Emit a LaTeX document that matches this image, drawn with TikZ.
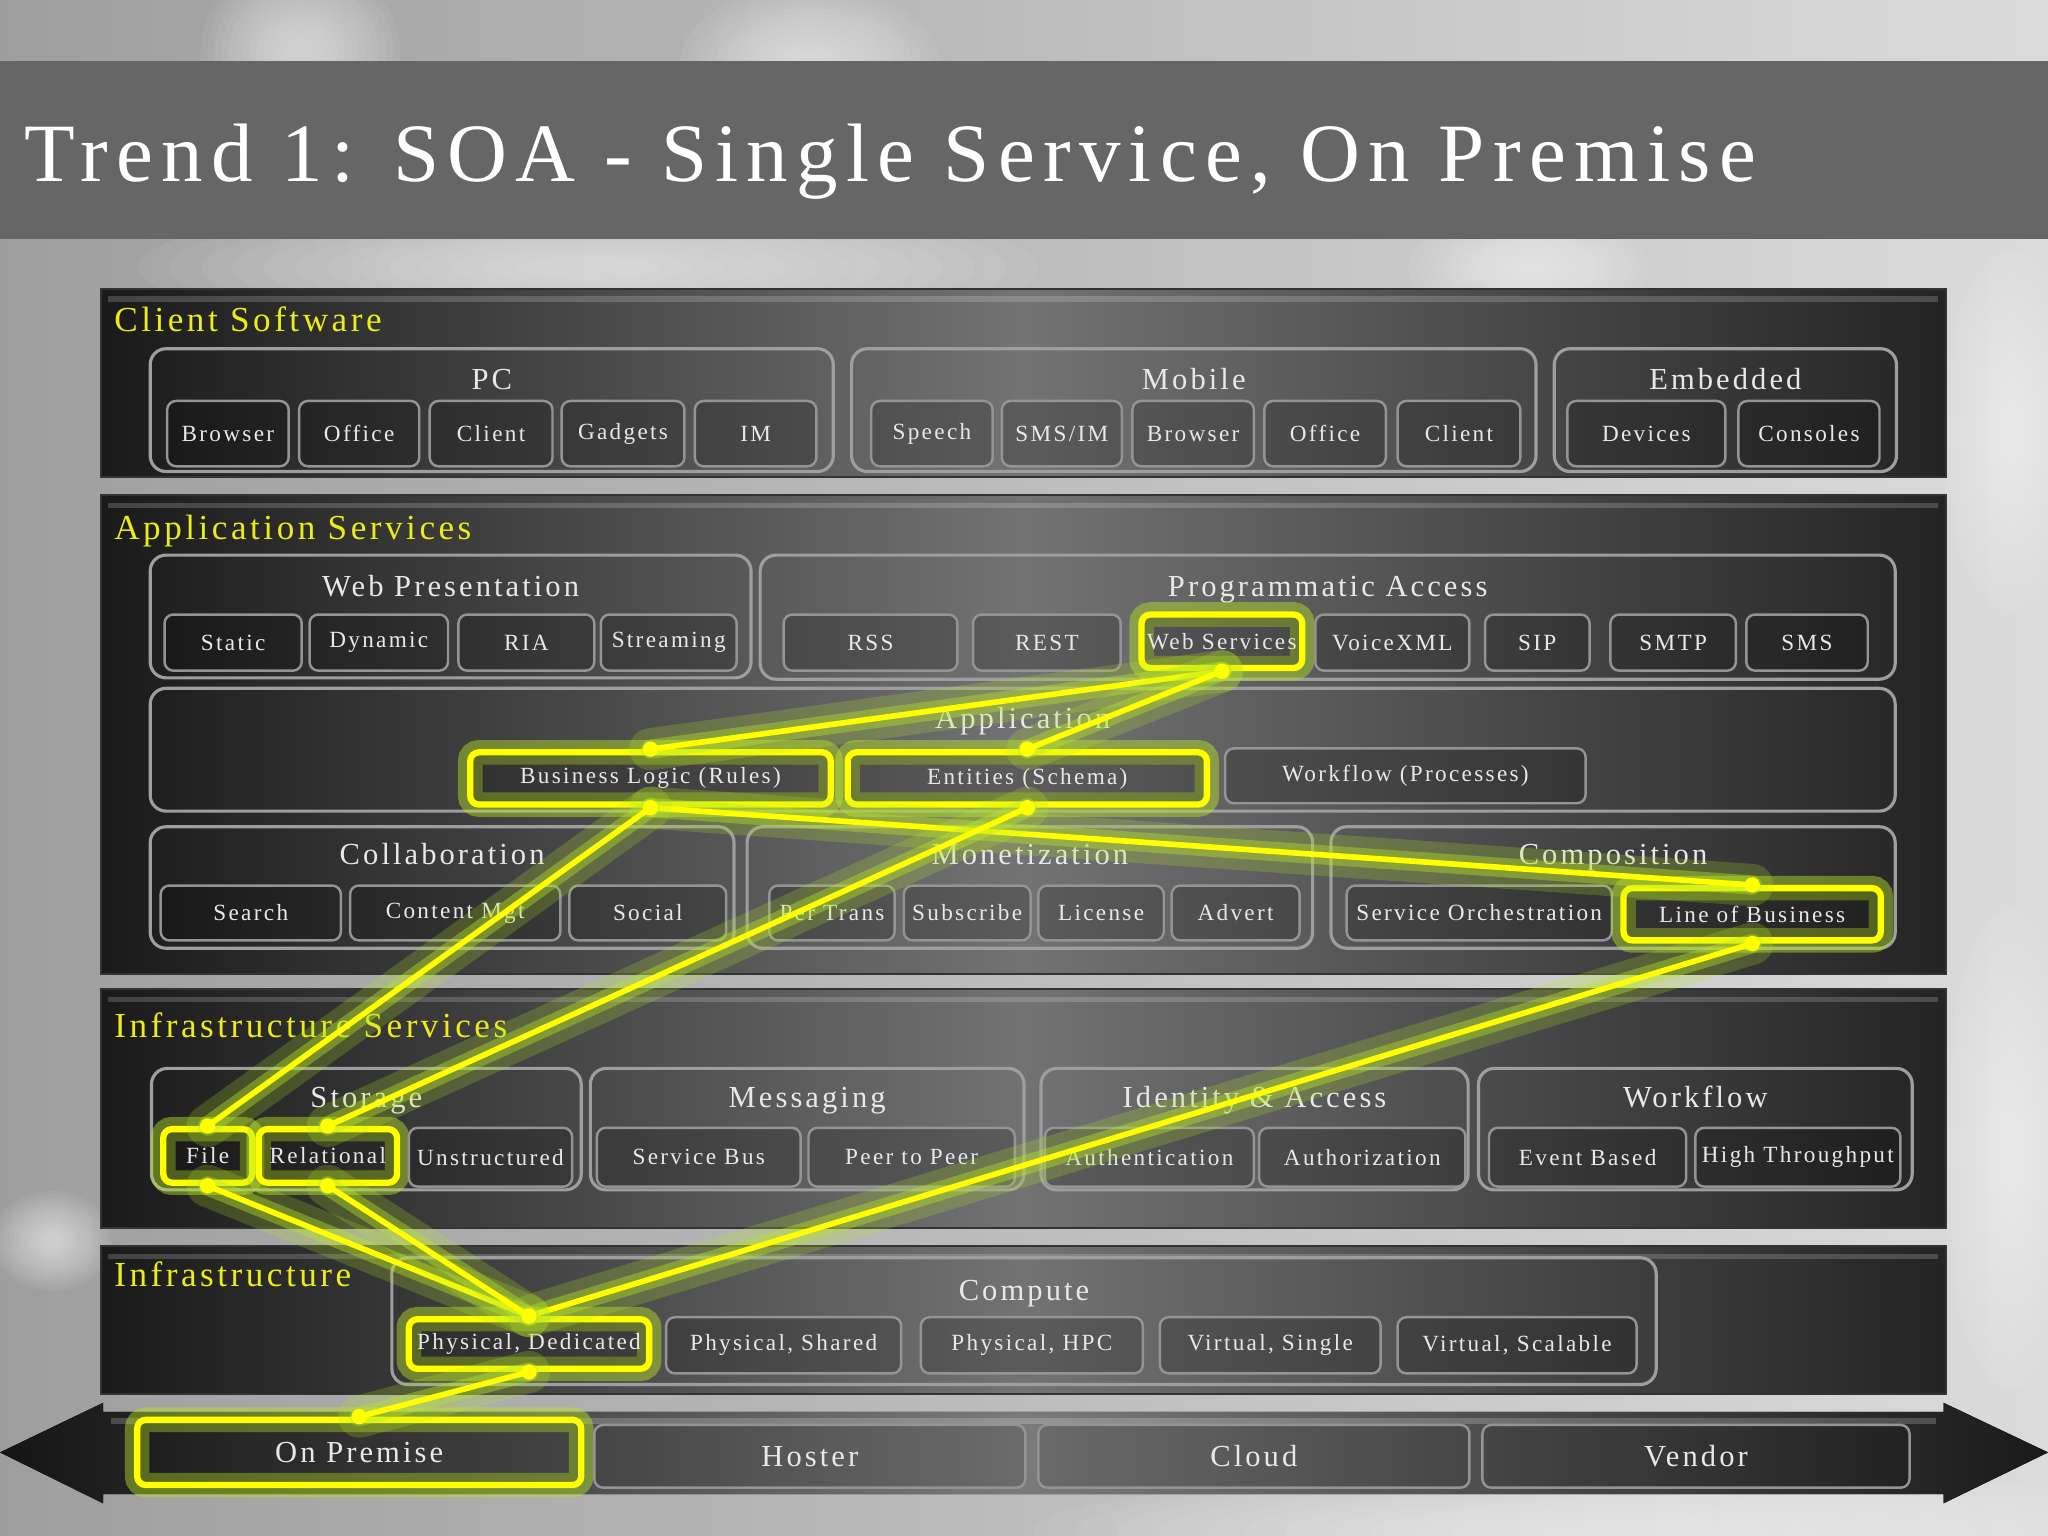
\documentclass[tikz,border=0pt]{standalone}
\usepackage{fontspec}
\setmainfont{Liberation Serif}[LetterSpace=10]
\definecolor{ylw}{RGB}{236,236,24}
\definecolor{hl}{RGB}{255,255,0}
\definecolor{glowc}{RGB}{185,230,40}
\definecolor{itxt}{RGB}{232,232,232}
\newcommand\upx{0.013061cm}
\newcommand\mkbox[7]{\node[#1, minimum width={(#4-#3)*\upx}, minimum height={(#6)*\upx}] (#2) at ({(#3+#4)/2},#5) {#7};}
\newcommand\mkgrp[7]{%
  \node[grpbox, minimum width={(#3-#2)*\upx}, minimum height={(#5-#4)*\upx}] (#1) at ({(#2+#3)/2},{(#4+#5)/2}) {};
  \node[grptitle, anchor=base] (#1-t) at ({(#2+#3)/2},#7) {#6};}
\newcommand\mkpanel[7]{%
  \node[panelbox, minimum width={(#3-#2)*\upx}, minimum height={(#5-#4)*\upx}] (#1) at ({(#2+#3)/2},{(#4+#5)/2}) {};
  \draw[white, draw opacity=0.18, line width=1.5pt] ({#2+6},{#4+8}) -- ({#3-6},{#4+8});
  \node[seclabel, anchor=base west] (#1-l) at (87,#7) {#6};}
\newcommand\blob[4]{%
  \foreach \s in {1,0.93,...,0.1}
    \fill[white, opacity=0.055] (#1,#2) ellipse [x radius=\s*#3 cm, y radius=\s*#4 cm];}
\begin{document}
\begin{tikzpicture}[x=0.013061cm, y=-0.013061cm,
  panelbox/.style={inner sep=0pt, outer sep=0pt, draw=black!80, line width=0.6pt, left color=black!90, right color=black!86, middle color=black!55},
  grpbox/.style={inner sep=0pt, draw=black!38, line width=0.9pt, rounded corners=4.5pt},
  grptitle/.style={inner sep=0pt, text=itxt, font=\fontsize{8.7}{10}\selectfont},
  seclabel/.style={inner sep=0pt, text=ylw, font=\fontsize{10}{12}\selectfont},
  item/.style={inner sep=0pt, draw=black!42, line width=0.7pt, rounded corners=2.5pt, fill=black, fill opacity=0.2, text opacity=1, text=itxt, font=\fontsize{6.6}{8}\selectfont},
  hlitem/.style={item, draw=hl, line width=1.8pt, preaction={draw=glowc, draw opacity=0.45, line width=7pt}},
  baritem/.style={item, font=\fontsize{8.7}{10}\selectfont, fill opacity=0.12},
  hlbar/.style={baritem, draw=hl, line width=1.8pt, preaction={draw=glowc, draw opacity=0.45, line width=7pt}},
  conn/.style={draw=hl, line width=1.6pt, line cap=round, preaction={draw=glowc, draw opacity=0.22, line width=12pt, line cap=round}, preaction={draw=glowc, draw opacity=0.4, line width=5.5pt, line cap=round}}
]
\useasboundingbox (0,0) rectangle (1568,1176);
% background sky
\fill[left color=black!38, right color=black!14] (0,0) rectangle (1568,1176);
\blob{230}{40}{1.0}{0.9}
\blob{620}{50}{1.3}{0.8}
\blob{450}{205}{4.5}{0.7}
\blob{1170}{205}{1.2}{0.55}
\blob{1540}{330}{0.7}{1.8}
\blob{1540}{880}{0.7}{2.4}
\blob{1250}{1172}{6.0}{0.6}
\blob{40}{950}{0.6}{0.5}
% title band
\fill[black!60] (0,47) rectangle (1568,183);
\node[anchor=base west, inner sep=0pt, text=white, font=\fontsize{23.6}{28}\selectfont] (title) at (18,139) {Trend 1: SOA - Single Service, On Premise};

% panels
\mkpanel{cs}{77}{1490}{221}{365}{Client Software}{254}
\mkpanel{as}{77}{1490}{379}{746}{Application Services}{413}
\mkpanel{is}{77}{1490}{757}{940}{Infrastructure Services}{794}
\mkpanel{inf}{77}{1490}{954}{1067}{Infrastructure}{985}

% Client software
\mkgrp{pc}{115}{638}{267}{361}{PC}{298}
\mkgrp{mob}{652}{1176}{267}{361}{Mobile}{298}
\mkgrp{emb}{1190}{1452}{267}{361}{Embedded}{298}
\mkbox{item}{pc1}{128}{221}{332}{50}{Browser}
\mkbox{item}{pc2}{229}{321}{332}{50}{Office}
\mkbox{item}{pc3}{329}{423}{332}{50}{Client}
\mkbox{item}{pc4}{430}{524}{332}{50}{Gadgets}
\mkbox{item}{pc5}{532}{625}{332}{50}{IM}
\mkbox{item}{mb1}{667}{760}{332}{50}{Speech}
\mkbox{item}{mb2}{767}{859}{332}{50}{SMS/IM}
\mkbox{item}{mb3}{867}{960}{332}{50}{Browser}
\mkbox{item}{mb4}{968}{1061}{332}{50}{Office}
\mkbox{item}{mb5}{1070}{1164}{332}{50}{Client}
\mkbox{item}{em1}{1200}{1321}{332}{50}{Devices}
\mkbox{item}{em2}{1331}{1439}{332}{50}{Consoles}

% Application services
\mkgrp{wp}{115}{575}{425}{519}{Web Presentation}{457}
\mkgrp{pa}{582}{1451}{425}{520}{Programmatic Access}{457}
\mkbox{item}{wp1}{126}{231}{492}{43}{Static}
\mkbox{item}{wp2}{237}{343}{492}{43}{Dynamic}
\mkbox{item}{wp3}{351}{455}{492}{43}{RIA}
\mkbox{item}{wp4}{460}{564}{492}{43}{Streaming}
\mkbox{item}{pa1}{600}{733}{492}{43}{RSS}
\mkbox{item}{pa2}{745}{858}{492}{43}{REST}
\mkbox{hlitem}{ws}{874}{997}{491}{41}{Web Services}
\mkbox{item}{pa4}{1007}{1125}{492}{43}{VoiceXML}
\mkbox{item}{pa5}{1137}{1217}{492}{43}{SIP}
\mkbox{item}{pa6}{1233}{1329}{492}{43}{SMTP}
\mkbox{item}{pa7}{1337}{1430}{492}{43}{SMS}

\mkgrp{apg}{115}{1451}{527}{621}{Application}{558}
\mkbox{hlitem}{bl}{360}{636}{596}{40}{Business Logic (Rules)}
\mkbox{hlitem}{ent}{649}{924}{596}{40}{Entities (Schema)}
\mkbox{item}{wfp}{938}{1214}{594}{42}{Workflow (Processes)}

\mkgrp{col}{115}{562}{633}{726}{Collaboration}{662}
\mkgrp{mon}{572}{1005}{633}{726}{Monetization}{662}
\mkgrp{com}{1019}{1451}{633}{726}{Composition}{662}
\mkbox{item}{co1}{123}{261}{699}{42}{Search}
\mkbox{item}{co2}{268}{429}{699}{42}{Content Mgt}
\mkbox{item}{co3}{436}{556}{699}{42}{Social}
\mkbox{item}{mo1}{589}{685}{699}{42}{Per Trans}
\mkbox{item}{mo2}{692}{789}{699}{42}{Subscribe}
\mkbox{item}{mo3}{795}{891}{699}{42}{License}
\mkbox{item}{mo4}{897}{995}{699}{42}{Advert}
\mkbox{item}{cp1}{1031}{1234}{699}{42}{Service Orchestration}
\mkbox{hlitem}{lob}{1243}{1440}{700}{40}{Line of Business}

% Infrastructure services
\mkgrp{sto}{116}{445}{818}{911}{Storage}{848}
\mkgrp{msg}{452}{784}{818}{911}{Messaging}{848}
\mkgrp{ida}{797}{1124}{818}{911}{Identity \& Access}{848}
\mkgrp{wfl}{1132}{1464}{818}{911}{Workflow}{848}
\mkbox{hlitem}{file}{125}{193}{885}{41}{File}
\mkbox{hlitem}{rel}{198}{304}{885}{41}{Relational}
\mkbox{item}{st3}{313}{438}{886}{45}{Unstructured}
\mkbox{item}{ms1}{457}{613}{886}{45}{Service Bus}
\mkbox{item}{ms2}{619}{777}{886}{45}{Peer to Peer}
\mkbox{item}{id1}{800}{960}{886}{45}{Authentication}
\mkbox{item}{id2}{964}{1122}{886}{45}{Authorization}
\mkbox{item}{wf1}{1140}{1291}{886}{45}{Event Based}
\mkbox{item}{wf2}{1298}{1455}{886}{45}{High Throughput}

% Infrastructure
\mkgrp{cmp}{300}{1268}{963}{1060}{Compute}{996}
\mkbox{hlitem}{pd}{313}{497}{1029}{38}{Physical, Dedicated}
\mkbox{item}{cm2}{510}{690}{1030}{43}{Physical, Shared}
\mkbox{item}{cm3}{705}{875}{1030}{43}{Physical, HPC}
\mkbox{item}{cm4}{888}{1057}{1030}{43}{Virtual, Single}
\mkbox{item}{cm5}{1070}{1253}{1030}{43}{Virtual, Scalable}

% bottom double arrow bar
\fill[left color=black!92, right color=black!90, middle color=black!52]
  (0,1112) -- (79,1074) -- (79,1081) -- (1488,1081) -- (1488,1074) -- (1568,1112)
  -- (1488,1151) -- (1488,1144) -- (79,1144) -- (79,1151) -- cycle;
\draw[white, draw opacity=0.2, line width=1.5pt] (85,1088) -- (1482,1088);
\mkbox{hlbar}{onp}{105}{445}{1112}{50}{On Premise}
\mkbox{baritem}{hos}{455}{785}{1115}{48}{Hoster}
\mkbox{baritem}{cld}{795}{1125}{1115}{48}{Cloud}
\mkbox{baritem}{ven}{1135}{1462}{1115}{48}{Vendor}

% connectors
\draw[conn] (ws.south) -- (bl.north);
\draw[conn] (ws.south) -- (ent.north);
\draw[conn] (bl.south) -- (lob.north);
\draw[conn] (bl.south) -- (file.north);
\draw[conn] (ent.south) -- (rel.north);
\draw[conn] (lob.south) -- (pd.north);
\draw[conn] (file.south) -- (pd.north);
\draw[conn] (rel.south) -- (pd.north);
\draw[conn] (pd.south) -- (onp.north);
\foreach \a in {ws.south, bl.north, bl.south, ent.north, ent.south, lob.north, lob.south, file.north, file.south, rel.north, rel.south, pd.north, pd.south, onp.north}
  \fill[hl] (\a) circle[radius=2.2pt];
\end{tikzpicture}
\end{document}
